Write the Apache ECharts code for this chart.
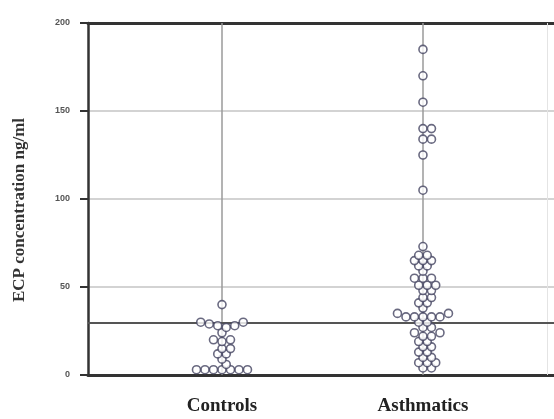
<!DOCTYPE html>
<html><head><meta charset="utf-8">
<script src="https://cdn.jsdelivr.net/npm/echarts@6/dist/echarts.min.js"></script>
<style>html,body{margin:0;padding:0;background:#fff}#c{width:554px;height:419px}</style>
</head><body><div id="c"></div>
<script>
const categories = ['Controls', 'Asthmatics'];
const categoryPos = [1, 2.5];
const controls = [40, 30, 30, 29, 28, 28, 27, 24, 20, 20, 19, 15, 15, 12, 12, 9, 6, 3, 3, 3, 3, 3, 3, 3];
const asthmatics = [185, 170, 155, 140, 140, 134, 134, 125, 105, 73, 68, 68, 65, 65, 65, 62, 62, 59, 55, 55, 55, 51, 51, 51, 48, 48, 44, 44, 41, 41, 38, 35, 35, 33, 33, 33, 33, 33, 30, 30, 27, 27, 24, 24, 22, 22, 19, 19, 16, 16, 13, 13, 10, 10, 7, 7, 7, 4, 4];
const cutoff = 29.5;

const chart = echarts.init(document.getElementById('c'));
const gridLeft = 88, gridRight = 0, gridTop = 23, gridBottom = 44;
const W = 554 - gridLeft - gridRight, H = 419 - gridTop - gridBottom;
const xMax = 3.478, yMax = 200;
const pxX = W / xMax, pxY = H / yMax;
const D = 8.5;

function swarm(vals, cx) {
  const placed = [];
  const sorted = vals.slice().sort((a, b) => a - b);
  const out = [];
  sorted.forEach(v => {
    const py = v * pxY;
    let off = 0;
    for (let k = 0; k < 40; k++) {
      const cand = (k === 0) ? 0 : ((k % 2 ? 1 : -1) * Math.ceil(k / 2) * D / 2);
      const ok = placed.every(p => Math.hypot(p[0] - cand, p[1] - py) >= D * 0.75);
      if (ok) { off = cand; break; }
    }
    placed.push([off, py]);
    out.push([cx + off / pxX, v]);
  });
  return out;
}

const dotStyle = { color: '#ffffff', borderColor: '#444460', borderWidth: 1.6 };
const font = 'Liberation Serif';

chart.setOption({
  animation: false,
  grid: { left: gridLeft, right: gridRight, top: gridTop, bottom: gridBottom },
  xAxis: [{
    type: 'value', min: 0, max: xMax,
    axisLine: { show: true, onZero: false, lineStyle: { color: '#333', width: 3 } },
    axisTick: { show: false },
    splitLine: { show: false },
    axisLabel: {
      customValues: categoryPos, margin: 22,
      formatter: v => { const i = categoryPos.indexOf(v); return i >= 0 ? categories[i] : ''; },
      fontFamily: font, fontWeight: 'bold', fontSize: 19, color: '#222'
    }
  }, {
    type: 'value', min: 0, max: xMax, position: 'top',
    axisLine: { show: true, onZero: false, lineStyle: { color: '#333', width: 3 } },
    axisTick: { show: false }, axisLabel: { show: false }, splitLine: { show: false }
  }],
  yAxis: {
    type: 'value', min: 0, max: yMax, interval: 50,
    name: 'ECP concentration ng/ml', nameLocation: 'middle', nameGap: 60,
    nameTextStyle: { fontFamily: font, fontWeight: 'bold', fontSize: 17, color: '#333', padding: [0, 22, 0, 0] },
    axisLine: { show: true, lineStyle: { color: '#333', width: 2.5 } },
    axisTick: { show: true, length: 8, lineStyle: { color: '#333', width: 2 } },
    axisLabel: { margin: 18, fontFamily: 'Liberation Sans', fontSize: 9, fontWeight: 'bold', color: '#555' },
    splitLine: { show: true, lineStyle: { color: '#c4c4c4', width: 1.5 } }
  },
  series: [{
    type: 'scatter', name: categories[0], data: swarm(controls, categoryPos[0]),
    symbol: 'circle', symbolSize: 8, itemStyle: dotStyle, z: 5,
    markLine: {
      silent: true, symbol: 'none', label: { show: false },
      data: [
        { xAxis: categoryPos[0], lineStyle: { color: '#9a9a9a', width: 1.5, type: 'solid' } },
        { xAxis: categoryPos[1], lineStyle: { color: '#9a9a9a', width: 1.5, type: 'solid' } },
        { xAxis: 3.43, lineStyle: { color: '#e4e4e4', width: 1, type: 'solid' } },
        { yAxis: cutoff, lineStyle: { color: '#555', width: 1.8, type: 'solid' } }
      ]
    }
  }, {
    type: 'scatter', name: categories[1], data: swarm(asthmatics, categoryPos[1]),
    symbol: 'circle', symbolSize: 8, itemStyle: dotStyle, z: 5
  }]
});
</script></body></html>
